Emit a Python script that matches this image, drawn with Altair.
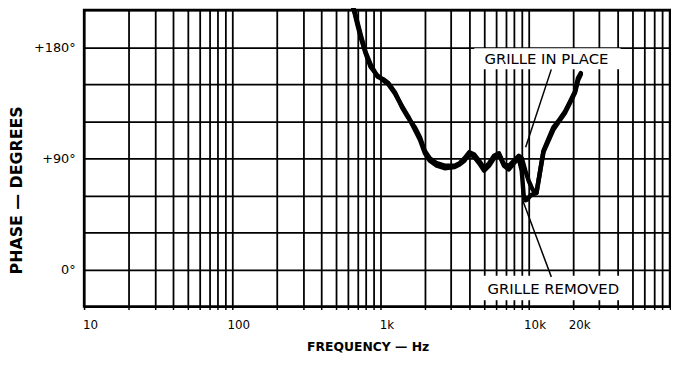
import altair as alt
import pandas as pd

# ---- data ----
freq_in_place = [650, 700, 736, 794, 858, 955, 1047, 1130, 1259, 1401, 1537, 1711, 1848, 1995,
                 2154, 2399, 2712, 3162, 3420, 3687, 3981, 4299, 4642, 5012, 5412, 5843, 6310,
                 6813, 7356, 7943, 8577, 9000, 9500, 10000, 10500, 11000, 11300, 12590, 14680,
                 15850, 17650, 19050, 20560, 21540, 22500]
phase_in_place = [214, 200, 190, 176, 166, 156, 154, 151, 143, 131, 123, 115, 107, 96,
                  90, 86, 84, 84, 86, 90, 95, 93, 88, 82, 86, 92, 94,
                  85, 84, 88, 92, 90, 80, 72, 66, 62, 62, 96, 115,
                  120, 128, 136, 144, 155, 159]

freq_removed = [650, 700, 736, 794, 858, 955, 1047, 1130, 1259, 1401, 1537, 1711, 1848, 1995,
                2154, 2399, 2712, 3162, 3420, 3687, 3981, 4299, 4642, 5012, 5412, 5843, 6310,
                6813, 7356, 7943, 8577, 8985, 9261, 9550, 9850, 10310, 10800, 11300, 12590,
                14680, 15850, 17650, 19050, 20560, 21540, 22500]
phase_removed = [214, 198, 188, 175, 164, 157, 153, 150, 142, 132, 124, 113, 105, 94,
                 88, 84, 82, 83, 85, 88, 94, 91, 86, 80, 84, 90, 93,
                 84, 81, 86, 90, 80, 60, 56, 57, 60, 61, 62, 95,
                 113, 119, 127, 135, 143, 153, 158]

series_names = ["GRILLE IN PLACE", "GRILLE REMOVED"]

x_tick_values = [10, 100, 1000, 10000, 20000]
x_tick_labels = ["10", "100", "1k", "10k", "20k"]
y_tick_values = [0, 90, 180]
y_tick_labels = ["0°", "+90°", "+180°"]

x_grid = [d * 10 ** k for k in range(1, 5) for d in range(1, 10)]
y_grid = list(range(-30, 211, 30))

# annotation anchors (data units)
label_text = ["GRILLE IN PLACE", "GRILLE REMOVED"]
label_freq = [13180, 14680]
label_phase = [170, -16]
box_f1 = [4300, 4790]
box_f2 = [41700, 45700]
box_p1 = [162, -25]
box_p2 = [179, -5]
leader_f1 = [14230, 14230]
leader_p1 = [162, -6]
leader_f2 = [9550, 9120]
leader_p2 = [99, 56]

FONT = "DejaVu Sans"

df = pd.DataFrame({
    "freq": freq_in_place + freq_removed,
    "phase": phase_in_place + phase_removed,
    "series": [series_names[0]] * len(freq_in_place) + [series_names[1]] * len(freq_removed),
})
ann = pd.DataFrame({
    "text": label_text, "f": label_freq, "p": label_phase,
    "bf1": box_f1, "bf2": box_f2, "bp1": box_p1, "bp2": box_p2,
    "lf1": leader_f1, "lp1": leader_p1, "lf2": leader_f2, "lp2": leader_p2,
})


def make_expr(values, labels):
    expr = "''"
    for v, l in reversed(list(zip(values, labels))):
        expr = f"datum.value == {v} ? '{l}' : " + expr
    return expr


xscale = alt.Scale(type="log", domain=[10, 90000], nice=False)
yscale = alt.Scale(domain=[-30, 210], nice=False, zero=False)

x_axis = alt.Axis(
    values=x_grid, tickCount=200, grid=True, gridColor="black", gridWidth=1.8, gridOpacity=1,
    labelExpr=make_expr(x_tick_values, x_tick_labels), labelFont=FONT, labelFontSize=12,
    labelColor="black", labelPadding=10, labelOffset=6, labelFlush=False, labelOverlap=False,
    ticks=True, tickSize=3, tickColor="black", tickWidth=1.5, domain=False,
    title="FREQUENCY — Hz", titleFont=FONT, titleFontSize=12.5, titleFontWeight="bold",
    titleColor="black", titleX=287, titleY=41, titleAlign="center", titleBaseline="middle",
)
y_axis = alt.Axis(
    values=y_grid, tickCount=200, grid=True, gridColor="black", gridWidth=1.8, gridOpacity=1,
    labelExpr=make_expr(y_tick_values, y_tick_labels), labelFont=FONT, labelFontSize=13,
    labelColor="black", labelPadding=9, labelFlush=False, labelOverlap=False,
    ticks=False, domain=False,
    title="PHASE — DEGREES", titleFont=FONT, titleFontSize=16, titleFontWeight="bold",
    titleColor="black", titleX=-68, titleY=182, titleAlign="center", titleBaseline="middle",
    titleAngle=270,
)

base = alt.Chart(df)
lines = base.mark_line(color="black", strokeWidth=4.5, strokeJoin="round", strokeCap="round").encode(
    x=alt.X("freq:Q", scale=xscale, axis=x_axis),
    y=alt.Y("phase:Q", scale=yscale, axis=y_axis),
    detail="series:N",
)

annb = alt.Chart(ann)
boxes = annb.mark_rect(color="white", opacity=1).encode(
    x=alt.X("bf1:Q", scale=xscale, axis=x_axis), x2="bf2:Q",
    y=alt.Y("bp1:Q", scale=yscale, axis=y_axis), y2="bp2:Q",
)
leaders = annb.mark_rule(color="black", strokeWidth=1.5).encode(
    x=alt.X("lf1:Q", scale=xscale, axis=x_axis), x2="lf2:Q",
    y=alt.Y("lp1:Q", scale=yscale, axis=y_axis), y2="lp2:Q",
)
labels = annb.mark_text(font=FONT, fontSize=15, color="black", align="center", baseline="middle").encode(
    x=alt.X("f:Q", scale=xscale, axis=x_axis), y=alt.Y("p:Q", scale=yscale, axis=y_axis), text="text:N",
)

chart = alt.layer(boxes, lines, leaders, labels).properties(
    width=593, height=300,
    autosize=alt.AutoSizeParams(type="none"),
    padding={"left": 77, "top": 0, "right": 1, "bottom": 50},
    background="white",
).configure_view(stroke="black", strokeWidth=2.5)

chart.save("out.html", embed_options={"renderer": "svg", "actions": False})
